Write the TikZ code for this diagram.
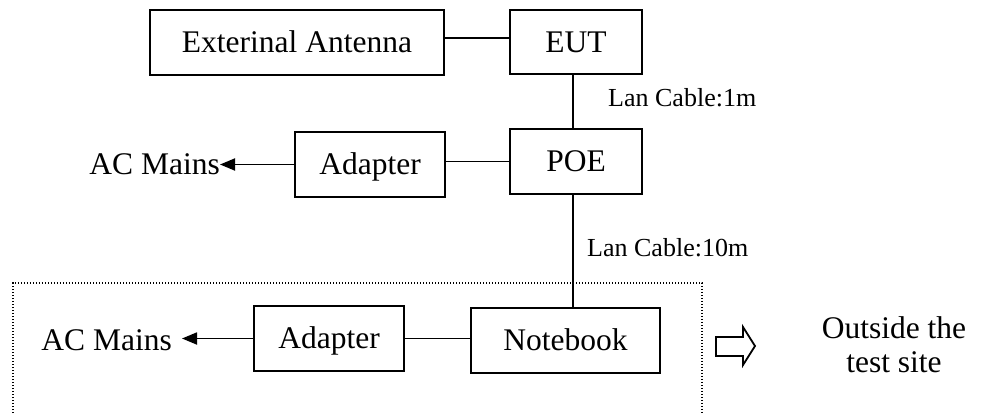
\documentclass[tikz,border=0pt]{standalone}
\usepackage{fontspec}
\setmainfont{Liberation Serif}
\usetikzlibrary{arrows.meta}
\begin{document}
\begin{tikzpicture}[x=1pt,y=-1pt,
  box/.style={draw, line width=1.8pt, inner sep=0pt, font=\fontsize{31.5}{34}\selectfont, text height=20.8pt, text depth=0pt, minimum height=65pt},
  lbl/.style={inner sep=0pt, font=\fontsize{31.5}{34}\selectfont, text height=20.8pt, text depth=0pt},
  txt/.style={inner sep=0pt, font=\fontsize{31.5}{34}\selectfont},
  small/.style={inner sep=0pt, font=\fontsize{26}{30}\selectfont},
  wire/.style={line width=1.8pt},
  tip/.style={wire, -{Triangle[length=15pt,width=12pt]}},
  dots/.style={line width=1.3pt, dash pattern=on 1.3pt off 1.7pt}
]
\useasboundingbox (0,0) rectangle (981,414);

\node[box, minimum width=294pt] (ext) at (297,42.5) {Exterinal Antenna};
\node[box, minimum width=132pt, minimum height=64pt] (eut) at (576,42) {EUT};
\node[box, minimum width=132pt] (poe) at (576,161.5) {POE};
\node[box, minimum width=150pt] (ad1) at (370,164.5) {Adapter};
\node[box, minimum width=150pt] (ad2) at (329,338.5) {Adapter};
\node[box, minimum width=189pt] (nb) at (565.5,340.5) {Notebook};

\node[lbl, anchor=east] (ac1) at (220,164.5) {AC Mains};
\node[lbl, anchor=east] (ac2) at (172,340.5) {AC Mains};

\node[small, anchor=base west] (l1) at (608,106.7) {Lan Cable:1m};
\node[small, anchor=base west] (l2) at (587,256) {Lan Cable:10m};

\node[txt, anchor=base] (o1) at (894,338) {Outside the};
\node[txt, anchor=base] (o2) at (894,372) {test site};

% connectors
\draw[wire] ([yshift=4.5pt]ext.east) -- ([yshift=4.5pt]ext.east -| eut.west);
\draw[wire] ([xshift=-3pt]eut.south) -- ([xshift=-3pt]poe.north);
\draw[wire] ([xshift=-3pt]poe.south) -- ([xshift=-3pt]poe.south |- nb.north);
\draw[wire] (ad1.east |- poe.west) -- (poe.west);
\draw[wire] (ad2.east) -- (ad2.east -| nb.west);
\draw[tip] (ad1.west) -- (ad1.west -| ac1.east);
\draw[tip, shorten >=10pt] (ad2.west) -- (ad2.west -| ac2.east);

% test-site boundary
\draw[dots] (13,416) -- (13,283) -- (702,283) -- (702,416);

% hollow arrow
\draw[line width=1.8pt, line join=miter] (716,337) -- (743,337) -- (743,327) -- (755,346) -- (743,365) -- (743,356) -- (716,356) -- cycle;
\end{tikzpicture}
\end{document}
